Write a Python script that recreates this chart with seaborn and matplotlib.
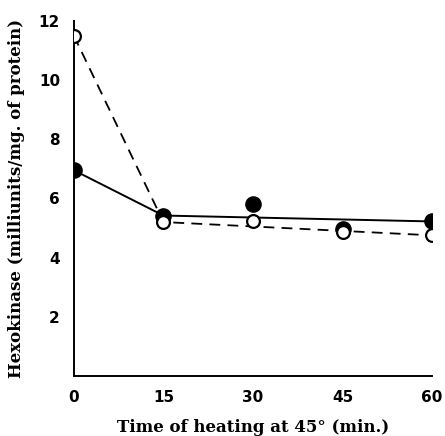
import numpy as np
import pandas as pd
import matplotlib
matplotlib.use('Agg')
import matplotlib.pyplot as plt
import seaborn as sns

# tiempo de calentamiento (min)
tiempo = [0, 15, 30, 45, 60]
# puntos medidos
hk_llenos = [6.95, 5.4, 5.8, 4.95, 5.25]
hk_abiertos = [11.5, 5.2, 5.25, 4.85, 4.75]

# lineas trazadas (tramo inicial y recta ajustada)
linea_x = [0, 15, 60]
linea_llena = [6.95, 5.42, 5.22]
linea_discontinua = [11.5, 5.2, 4.75]

sns.set_style("white")
plt.rcParams['font.family'] = ['DejaVu Sans']
plt.rcParams['text.color'] = 'black'
plt.rcParams['xtick.color'] = 'black'
plt.rcParams['ytick.color'] = 'black'
plt.rcParams['axes.labelcolor'] = 'black'

fig = plt.figure(figsize=(4.45, 4.36), dpi=100)
ax = fig.add_axes([0.166, 0.138, 0.805, 0.814])

sns.lineplot(x=linea_x, y=linea_llena, color='black', linewidth=1.4, ax=ax)
sns.lineplot(x=linea_x, y=linea_discontinua, color='black', linewidth=1.3,
             linestyle=(0, (6, 4)), ax=ax)

sns.scatterplot(x=tiempo, y=hk_llenos, color='black', s=120, edgecolor='black',
                linewidth=1, zorder=5, ax=ax)
sns.scatterplot(x=tiempo, y=hk_abiertos, color='white', s=85, edgecolor='black',
                linewidth=1.6, zorder=6, ax=ax)

ax.set_xlim(0, 60)
ax.set_ylim(0, 12)
ax.set_xticks([0, 15, 30, 45, 60])
ax.set_yticks([2, 4, 6, 8, 10, 12])
ax.tick_params(direction='in', length=5, width=1.2, labelsize=11, pad=10,
               colors='black')
for lab in ax.get_xticklabels() + ax.get_yticklabels():
    lab.set_fontweight('bold')

for s in ['top', 'right']:
    ax.spines[s].set_visible(False)
for s in ['left', 'bottom']:
    ax.spines[s].set_linewidth(1.4)
    ax.spines[s].set_color('black')

ax.set_xlabel('Time of heating at 45° (min.)', fontsize=12, fontweight='bold',
              family='DejaVu Serif', labelpad=10, color='black')
ax.set_ylabel('Hexokinase (milliunits/mg. of protein)', fontsize=12,
              fontweight='bold', family='DejaVu Serif', labelpad=10, color='black')

fig.savefig('out.png', dpi=100)
